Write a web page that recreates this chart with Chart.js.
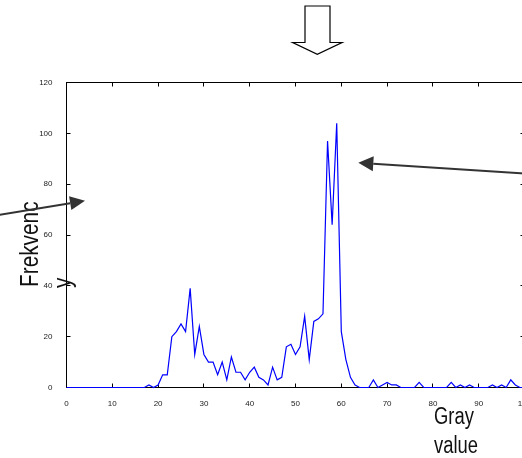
<!DOCTYPE html>
<html>
<head>
<meta charset="utf-8">
<script src="https://cdn.jsdelivr.net/npm/chart.js@4/dist/chart.umd.min.js"></script>
<style>
  html, body { margin: 0; padding: 0; background: #fff; overflow: hidden; }
  #wrap { width: 540px; height: 458px; }
</style>
</head>
<body>
<div id="wrap"><canvas id="histo" width="540" height="458"></canvas></div>
<script>
// gray levels on the x axis
const grayValues = [
  0, 1, 2, 3, 4, 5, 6, 7, 8, 9,
  10, 11, 12, 13, 14, 15, 16, 17, 18, 19,
  20, 21, 22, 23, 24, 25, 26, 27, 28, 29,
  30, 31, 32, 33, 34, 35, 36, 37, 38, 39,
  40, 41, 42, 43, 44, 45, 46, 47, 48, 49,
  50, 51, 52, 53, 54, 55, 56, 57, 58, 59,
  60, 61, 62, 63, 64, 65, 66, 67, 68, 69,
  70, 71, 72, 73, 74, 75, 76, 77, 78, 79,
  80, 81, 82, 83, 84, 85, 86, 87, 88, 89,
  90, 91, 92, 93, 94, 95, 96, 97, 98, 99,
  100
];
// pixel count per gray level
const frequency = [
  0, 0, 0, 0, 0, 0, 0, 0, 0, 0,
  0, 0, 0, 0, 0, 0, 0, 0, 1, 0,
  1, 5, 5, 20, 22, 25, 22, 39, 13, 24,
  13, 10, 10, 5, 10, 3, 12, 6, 6, 3,
  6, 8, 4, 3, 1, 8, 3, 4, 16, 17,
  13, 16, 28, 11, 26, 27, 29, 97, 64, 104,
  22, 11, 4, 1, 0, 0, 0, 3, 0, 1,
  2, 1, 1, 0, 0, 0, 0, 2, 0, 0,
  0, 0, 0, 0, 2, 0, 1, 0, 1, 0,
  0, 0, 0, 1, 0, 1, 0, 3, 1, 0,
  0
];
const xTicks = [0, 10, 20, 30, 40, 50, 60, 70, 80, 90, 100];
const yTicks = [0, 20, 40, 60, 80, 100, 120];

const yLabel = ['Frekvenc', 'y'];
const xLabel = ['Gray', 'value'];

const tickFont = '"Liberation Sans", Arial, sans-serif';
const labelFont = '"Liberation Sans", Arial, sans-serif';

// matlab style box with inward ticks
const boxPlugin = {
  id: 'box',
  beforeDatasetsDraw(chart) {
    const { ctx, chartArea: a, scales: { x, y } } = chart;
    ctx.save();
    ctx.strokeStyle = '#000';
    ctx.lineWidth = 1;
    ctx.strokeRect(a.left, a.top, a.right - a.left, a.bottom - a.top);
    ctx.beginPath();
    xTicks.forEach(v => {
      const px = Math.round(x.getPixelForValue(v) - 0.5) + 0.5;
      ctx.moveTo(px, a.bottom); ctx.lineTo(px, a.bottom - 4);
      ctx.moveTo(px, a.top); ctx.lineTo(px, a.top + 4);
    });
    yTicks.forEach(v => {
      const py = Math.round(y.getPixelForValue(v) - 0.5) + 0.5;
      ctx.moveTo(a.left, py); ctx.lineTo(a.left + 4, py);
      ctx.moveTo(a.right, py); ctx.lineTo(a.right - 4, py);
    });
    ctx.stroke();
    ctx.restore();
  }
};

function arrow(ctx, x0, y0, x1, y1, len, half) {
  const ang = Math.atan2(y1 - y0, x1 - x0);
  const bx = x1 - Math.cos(ang) * len;
  const by = y1 - Math.sin(ang) * len;
  ctx.beginPath();
  ctx.moveTo(x0, y0);
  ctx.lineTo(bx, by);
  ctx.stroke();
  ctx.beginPath();
  ctx.moveTo(x1, y1);
  ctx.lineTo(bx - Math.sin(ang) * half, by + Math.cos(ang) * half);
  ctx.lineTo(bx + Math.sin(ang) * half, by - Math.cos(ang) * half);
  ctx.closePath();
  ctx.fill();
}

// narrow text: squeeze along the writing direction
function narrowText(ctx, txt, x, y, rot) {
  ctx.save();
  ctx.translate(x, y);
  if (rot) ctx.rotate(rot);
  ctx.scale(0.8, 1);
  ctx.fillText(txt, 0, 0);
  ctx.restore();
}

// labels and arrows pasted round the plot
const notesPlugin = {
  id: 'notes',
  afterDraw(chart) {
    const ctx = chart.ctx;
    ctx.save();
    ctx.fillStyle = '#111';
    ctx.textAlign = 'left';
    ctx.textBaseline = 'alphabetic';

    // rotated y label, wrapped on two lines
    ctx.font = '26px ' + labelFont;
    narrowText(ctx, yLabel[0], 37.5, 287, -Math.PI / 2);
    narrowText(ctx, yLabel[1], 70.5, 288, -Math.PI / 2);

    ctx.font = '23px ' + labelFont;
    narrowText(ctx, xLabel[0], 434, 424);
    narrowText(ctx, xLabel[1], 434, 453);

    // pointer arrows
    ctx.strokeStyle = '#333';
    ctx.fillStyle = '#333';
    ctx.lineWidth = 2;
    arrow(ctx, -10, 216.5, 85, 200.7, 15, 7);
    arrow(ctx, 545, 174.8, 358.3, 162.7, 15, 7.5);

    // hollow arrow at the top
    ctx.strokeStyle = '#000';
    ctx.lineWidth = 1.2;
    ctx.beginPath();
    ctx.moveTo(305, 6);
    ctx.lineTo(330, 6);
    ctx.lineTo(330, 42.5);
    ctx.lineTo(342, 42.5);
    ctx.lineTo(317.3, 54.3);
    ctx.lineTo(292.7, 42.5);
    ctx.lineTo(305, 42.5);
    ctx.closePath();
    ctx.stroke();
    ctx.restore();
  }
};

const points = grayValues.map((g, i) => ({ x: g, y: frequency[i] }));

new Chart(document.getElementById('histo'), {
  type: 'line',
  data: {
    datasets: [{
      data: points,
      borderColor: '#0000ff',
      borderWidth: 1.2,
      pointRadius: 0,
      tension: 0,
      fill: false,
      clip: false
    }]
  },
  options: {
    responsive: false,
    animation: false,
    events: [],
    layout: { padding: { left: 0, top: 82.5, right: 15.5, bottom: 0 } },
    plugins: {
      legend: { display: false },
      tooltip: { enabled: false },
      title: { display: false }
    },
    scales: {
      x: {
        type: 'linear',
        min: 0,
        max: 100,
        afterBuildTicks: s => { s.ticks = xTicks.map(v => ({ value: v })); },
        afterFit: s => { s.height = 70.5; },
        grid: { display: false },
        border: { display: false },
        ticks: {
          color: '#222',
          padding: 3,
          maxRotation: 0,
          autoSkip: false,
          font: { family: tickFont, size: 8 }
        }
      },
      y: {
        min: 0,
        max: 120,
        afterBuildTicks: s => { s.ticks = yTicks.map(v => ({ value: v })); },
        afterFit: s => { s.width = 66.5; },
        grid: { display: false },
        border: { display: false },
        ticks: {
          color: '#222',
          padding: 6,
          autoSkip: false,
          font: { family: tickFont, size: 8 }
        }
      }
    }
  },
  plugins: [boxPlugin, notesPlugin]
});
</script>
</body>
</html>
